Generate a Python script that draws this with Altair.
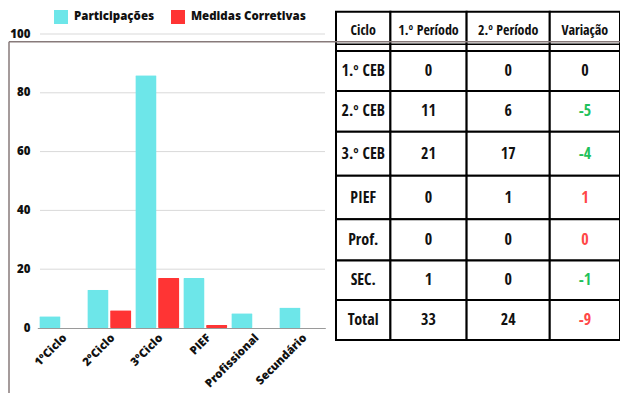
import altair as alt
import pandas as pd

# ---------------- data ----------------
categories = ["1ºCiclo", "2ºCiclo", "3ºCiclo", "PIEF", "Profissional", "Secundário"]
series_names = ["Participações", "Medidas Corretivas"]
participacoes = [4, 13, 86, 17, 5, 7]
medidas_corretivas = [0, 6, 17, 1, 0, 0]
y_ticks = [0, 20, 40, 60, 80, 100]

table_header = ["Ciclo", "1.º Período", "2.º Período", "Variação"]
table_ciclos = ["1.º CEB", "2.º CEB", "3.º CEB", "PIEF", "Prof.", "SEC.", "Total"]
periodo_1 = [0, 11, 21, 0, 0, 1, 33]
periodo_2 = [0, 6, 17, 1, 0, 0, 24]
variacao = ["0", "-5", "-4", "1", "0", "-1", "-9"]
variacao_tone = ["neutral", "down", "down", "up", "up", "down", "up"]

# ---------------- style / layout ----------------
CYAN = "#6de6e9"
RED = "#ff3434"
TONE_COLORS = ["#111111", "#1fc15b", "#ff4747"]
FRAME = "#877a7a"
CHART_FONT = "'Open Sans ExtraBold', 'Open Sans', sans-serif"
TABLE_FONT = "'Open Sans Condensed', 'Roboto Condensed', 'DejaVu Sans Condensed', sans-serif"

PLOT_W, PLOT_H = 584, 320
Y_RANGE = [320, 26]
X_RANGE = [1.3, 289.3]
col_widths = [55, 77, 84, 71]
row_heights = [39.3, 40, 40.7, 44, 43.6, 41.2, 39.5, 40]
header_line = 32.6
TABLE_X = [300, 584]
TABLE_Y = [3.7, 332]

# ---------------- bar chart ----------------
bar_rows = []
for c, p, m in zip(categories, participacoes, medidas_corretivas):
    bar_rows.append({"cat": c, "serie": series_names[0], "v": p})
    bar_rows.append({"cat": c, "serie": series_names[1], "v": m})
bar_df = pd.DataFrame(bar_rows)

y_scale = alt.Scale(domain=[0, 100], range=Y_RANGE, nice=False, zero=True)

grid = alt.Chart(pd.DataFrame({"v": y_ticks[1:]})).mark_rule(
    color="#d9d9d9", strokeWidth=1
).encode(
    y=alt.Y("v:Q", scale=y_scale, axis=None),
    x=alt.value(4),
    x2=alt.value(289),
)

bars = alt.Chart(bar_df).mark_bar(cornerRadius=1).encode(
    x=alt.X(
        "cat:N",
        sort=categories,
        scale=alt.Scale(range=X_RANGE, paddingInner=4 / 48, paddingOuter=2 / 48),
        axis=alt.Axis(
            title=None, labelAngle=-45, labelAlign="right", labelBaseline="middle",
            labelPadding=8, labelOffset=4, ticks=False, domainColor="#9a9a9a",
            domainWidth=1.2, labelFont=CHART_FONT, labelFontSize=11.5,
            labelFontWeight="normal", labelColor="#111111",
        ),
    ),
    xOffset=alt.XOffset(
        "serie:N", sort=series_names,
        scale=alt.Scale(paddingInner=0.07, paddingOuter=0),
    ),
    y=alt.Y(
        "v:Q",
        scale=y_scale,
        axis=alt.Axis(
            values=y_ticks, title=None, grid=False, ticks=False, domain=False,
            labelPadding=6, labelFont=CHART_FONT, labelFontSize=11.5,
            labelFontWeight="normal", labelColor="#111111",
        ),
    ),
    color=alt.Color(
        "serie:N",
        sort=series_names,
        scale=alt.Scale(domain=series_names, range=[CYAN, RED]),
        legend=alt.Legend(
            orient="none", legendX=18, legendY=2, direction="horizontal",
            title=None, symbolType="square", symbolSize=196, symbolStrokeWidth=0,
            symbolOpacity=1, labelFont=CHART_FONT, labelFontSize=11.5,
            labelFontWeight="normal", labelColor="#111111", labelOffset=6,
            columnPadding=16, padding=0,
        ),
    ),
)

# ---------------- table ----------------
col_edges = [0]
for w in col_widths:
    col_edges.append(col_edges[-1] + w)
row_edges = [0]
for h in row_heights:
    row_edges.append(row_edges[-1] + h)

tx_scale = alt.Scale(domain=[0, col_edges[-1]], range=TABLE_X)
ty_scale = alt.Scale(domain=[0, row_edges[-1]], range=TABLE_Y)

cell_rows = []
for r in range(len(row_heights)):
    for c in range(len(col_widths)):
        cell_rows.append({"x0": col_edges[c], "x1": col_edges[c + 1],
                          "y0": row_edges[r], "y1": row_edges[r + 1]})
cells = alt.Chart(pd.DataFrame(cell_rows)).mark_rect(
    fill="white", stroke="black", strokeWidth=2
).encode(
    x=alt.X("x0:Q", scale=tx_scale, axis=None),
    x2="x1:Q",
    y=alt.Y("y0:Q", scale=ty_scale, axis=None),
    y2="y1:Q",
)

hline = alt.Chart(pd.DataFrame({"y": [header_line], "xa": [0], "xb": [col_edges[-1]]})).mark_rule(
    color="black", strokeWidth=1.5
).encode(
    x=alt.X("xa:Q", scale=tx_scale, axis=None),
    x2="xb:Q",
    y=alt.Y("y:Q", scale=ty_scale, axis=None),
)

def col_center(c):
    return (col_edges[c] + col_edges[c + 1]) / 2

def row_center(r):
    return (row_edges[r] + row_edges[r + 1]) / 2

head_df = pd.DataFrame({
    "xc": [col_center(c) for c in range(4)],
    "yc": [row_center(0)] * 4,
    "t": table_header,
})
body_rows = []
for i, (ci, a, b, v, tone) in enumerate(zip(table_ciclos, periodo_1, periodo_2, variacao, variacao_tone)):
    r = i + 1
    for c, (txt, tn) in enumerate([(ci, "neutral"), (str(a), "neutral"), (str(b), "neutral"), (v, tone)]):
        body_rows.append({"xc": col_center(c), "yc": row_center(r), "t": txt, "tone": tn})
body_df = pd.DataFrame(body_rows)

head_text = alt.Chart(head_df).mark_text(
    font=TABLE_FONT, fontSize=14, fontWeight="bold", color="#111111",
    align="center", baseline="middle",
).encode(
    x=alt.X("xc:Q", scale=tx_scale, axis=None),
    y=alt.Y("yc:Q", scale=ty_scale, axis=None),
    text="t:N",
)

body_text = alt.Chart(body_df).mark_text(
    font=TABLE_FONT, fontSize=16, fontWeight="bold",
    align="center", baseline="middle",
).encode(
    x=alt.X("xc:Q", scale=tx_scale, axis=None),
    y=alt.Y("yc:Q", scale=ty_scale, axis=None),
    text="t:N",
    color=alt.Color("tone:N", scale=alt.Scale(domain=["neutral", "down", "up"], range=TONE_COLORS), legend=None),
)

# ---------------- frame lines ----------------
one = pd.DataFrame({"a": [0]})
frame_h = alt.Chart(one).mark_rule(color=FRAME, strokeWidth=1.5).encode(
    x=alt.value(-27), x2=alt.value(PLOT_W), y=alt.value(33.7)
)
frame_v = alt.Chart(one).mark_rule(color=FRAME, strokeWidth=1.5).encode(
    x=alt.value(-27), y=alt.value(33.7), y2=alt.value(385)
)

chart = alt.layer(
    grid, bars, cells, hline, head_text, body_text, frame_h, frame_v
).resolve_scale(
    x="independent", y="independent", color="independent"
).properties(
    width=PLOT_W, height=PLOT_H,
    padding={"left": 28, "top": 0, "right": 0, "bottom": 65},
    autosize=alt.AutoSizeParams(type="none"),
    background="white",
).configure_view(stroke=None)

chart.save("out.html", embed_options={"renderer": "svg", "actions": False})
